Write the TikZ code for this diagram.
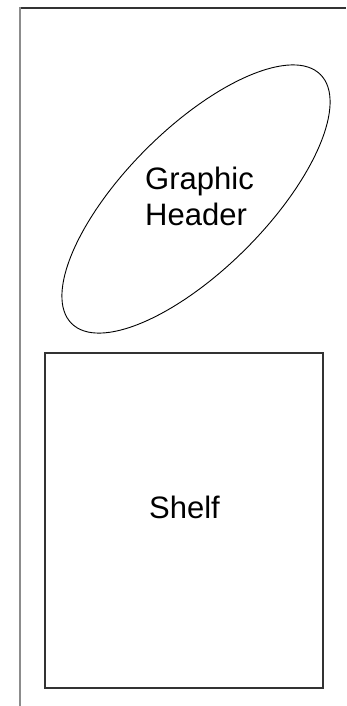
\documentclass[tikz,border=0pt]{standalone}
\usepackage{fontspec}
\setmainfont{Liberation Sans}
\usetikzlibrary{shapes.geometric}
\begin{document}
\begin{tikzpicture}[x=1pt,y=-1pt,
        header shape/.style={draw, ellipse, line width=0.9pt, inner sep=0pt,
            minimum width=352pt, minimum height=141pt, rotate=45},
        shelf box/.style={draw=black!80, line width=1.4pt, inner sep=0pt,
            minimum width=278pt, minimum height=335pt},
        caption/.style={inner sep=0pt, font=\fontsize{31}{36}\selectfont}]

            % Page size
            \useasboundingbox (0,0) rectangle (346,706);

            % Frame edges
            \draw[line width=1.8pt, black!80] (19,7.8) -- (346,7.8);
            \draw[line width=1.8pt, black!45] (20,7) -- (20,706);

            % Graphic header (tilted ellipse)
            \node[header shape] (headershape) at (196,199) {};
            \node[caption, align=left] (header) at (199.5,196) {Graphic\\Header};

            % Shelf
            \node[shelf box] (shelf) at (184,520.5) {};
            \node[caption] (shelflabel) at (184.5,507) {Shelf};

        \end{tikzpicture}
\end{document}
